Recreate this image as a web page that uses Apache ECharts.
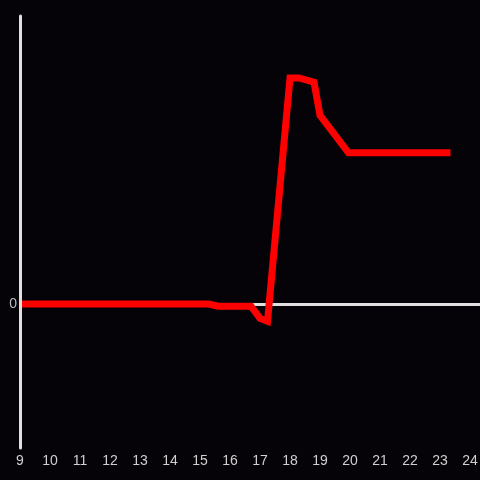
<!DOCTYPE html>
<html>
<head>
<meta charset="utf-8">
<script src="https://cdn.jsdelivr.net/npm/echarts@6/dist/echarts.min.js"></script>
<style>
  html, body { margin: 0; padding: 0; background: #050307; }
  #chart { width: 480px; height: 480px; }
</style>
</head>
<body>
<div id="chart"></div>
<script>
  // hour of day vs value
  const hours = [9, 15.3, 15.6, 16.7, 17.0, 17.25, 18.0, 18.3, 18.8, 19.0, 19.95, 23.35]
  const values = [0, 0, -0.015, -0.015, -0.1, -0.12, 1.57, 1.57, 1.54, 1.31, 1.05, 1.05]

  const chart = echarts.init(document.getElementById("chart"))

  const option = {
    backgroundColor: "#050307",
    animation: false,
    grid: { left: 20, right: 0, top: 16, bottom: 32, outerBoundsMode: "none", containLabel: false },
    xAxis: {
      type: "value",
      min: 9,
      max: 24.333,
      interval: 1,
      axisLine: { show: false },
      axisTick: { show: false },
      splitLine: { show: false },
      axisLabel: {
        color: "#d0d0d0",
        fontSize: 14,
        fontFamily: "Liberation Sans",
        margin: 6,
        formatter: (v) => (Number.isInteger(v) ? String(v) : ""),
      },
    },
    yAxis: {
      type: "value",
      min: -1,
      max: 2,
      interval: 1,
      z: 5,
      axisLine: { show: true, lineStyle: { color: "#e0e0e0", width: 3 } },
      axisTick: { show: false },
      splitLine: { show: false },
      axisLabel: {
        color: "#bbbbbb",
        fontSize: 14,
        fontFamily: "Liberation Sans",
        margin: 3,
        formatter: (v) => (v === 0 ? "0" : ""),
      },
    },
    series: [
      {
        type: "line",
        data: [],
        z: 1,
        markLine: {
          z: 1,
          silent: true,
          symbol: "none",
          label: { show: false },
          lineStyle: { color: "#e0e0e0", width: 3, type: "solid" },
          data: [{ yAxis: 0 }],
        },
      },
      {
        type: "line",
        z: 3,
        data: hours.map((h, i) => [h, values[i]]),
        showSymbol: false,
        lineStyle: { color: "#ff0000", width: 7, join: "miter" },
      },
    ],
  }

  chart.setOption(option)
</script>
</body>
</html>
